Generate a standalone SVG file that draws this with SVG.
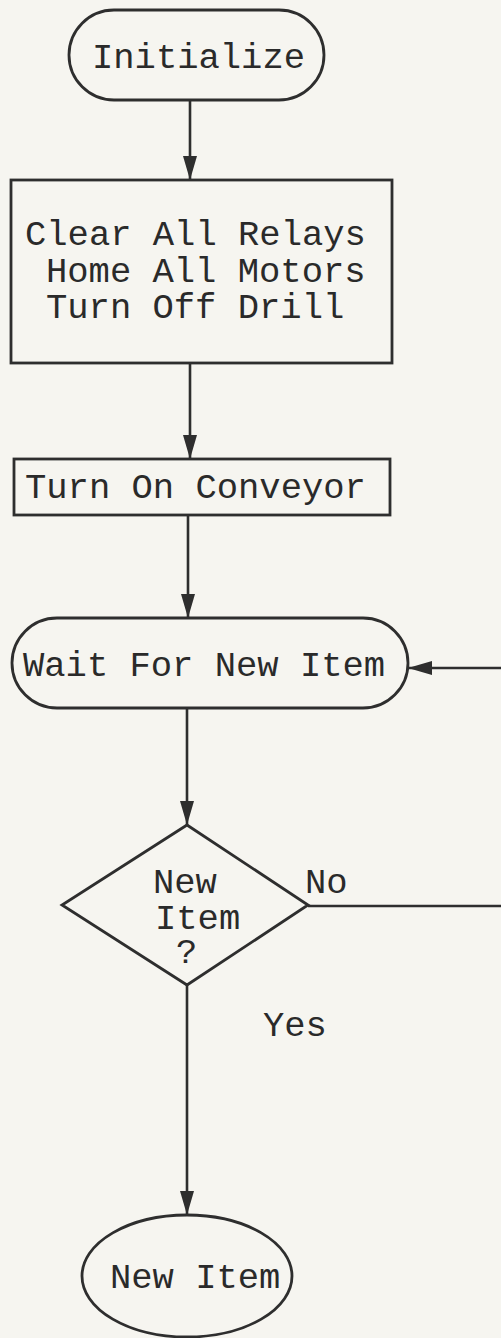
<svg xmlns="http://www.w3.org/2000/svg" width="501" height="1338" viewBox="0 0 501 1338">
  <style>
    .shape { fill: none; stroke: #2e2e2e; stroke-width: 2.8; }
    .wire { fill: none; stroke: #2e2e2e; stroke-width: 2.6; }
    .label { font-family: "Liberation Mono", "Courier New", monospace; font-size: 35.5px; fill: #2a2a2a; }
  </style>
  <defs>
    <marker id="arrow" viewBox="0 0 24 16" refX="24" refY="8" markerWidth="24" markerHeight="16" markerUnits="userSpaceOnUse" orient="auto">
      <path d="M0,1 L24,8 L0,15 Z" fill="#2e2e2e"/>
    </marker>
  </defs>

  <rect width="501" height="1338" fill="#f6f5f0"/>

  <g id="connectors">
    <line class="wire" x1="190" y1="100" x2="190" y2="180" marker-end="url(#arrow)"/>
    <line class="wire" x1="190" y1="363" x2="190" y2="459" marker-end="url(#arrow)"/>
    <line class="wire" x1="188" y1="515" x2="188" y2="618" marker-end="url(#arrow)"/>
    <line class="wire" x1="187" y1="708" x2="187" y2="825" marker-end="url(#arrow)"/>
    <line class="wire" x1="187" y1="985" x2="187" y2="1215" marker-end="url(#arrow)"/>
    <line class="wire" x1="308" y1="906" x2="501" y2="906"/>
    <line class="wire" x1="501" y1="668" x2="408" y2="668" marker-end="url(#arrow)"/>
    <text class="label" x="305" y="893">No</text>
    <text class="label" x="263" y="1036">Yes</text>
  </g>

  <g id="initialize">
    <rect class="shape" x="69" y="10" width="255" height="90" rx="45" ry="45"/>
    <text class="label" x="92" y="68">Initialize</text>
  </g>

  <g id="reset">
    <rect class="shape" x="11" y="180" width="381" height="183"/>
    <text class="label" x="25" y="245">Clear All Relays</text>
    <text class="label" x="46" y="282">Home All Motors</text>
    <text class="label" x="46" y="318">Turn Off Drill</text>
  </g>

  <g id="conveyor">
    <rect class="shape" x="14" y="459" width="376" height="56"/>
    <text class="label" x="25" y="498">Turn On Conveyor</text>
  </g>

  <g id="wait">
    <rect class="shape" x="12" y="618" width="396" height="90" rx="45" ry="45"/>
    <text class="label" x="23" y="676">Wait For New Item</text>
  </g>

  <g id="decision">
    <polygon class="shape" points="187,825 308,905 187,985 62,905"/>
    <text class="label" x="153" y="893">New</text>
    <text class="label" x="155" y="929">Item</text>
    <text class="label" x="176" y="963">?</text>
  </g>

  <g id="new-item">
    <ellipse class="shape" cx="187" cy="1276" rx="105" ry="61"/>
    <text class="label" x="110" y="1288">New Item</text>
  </g>
</svg>
